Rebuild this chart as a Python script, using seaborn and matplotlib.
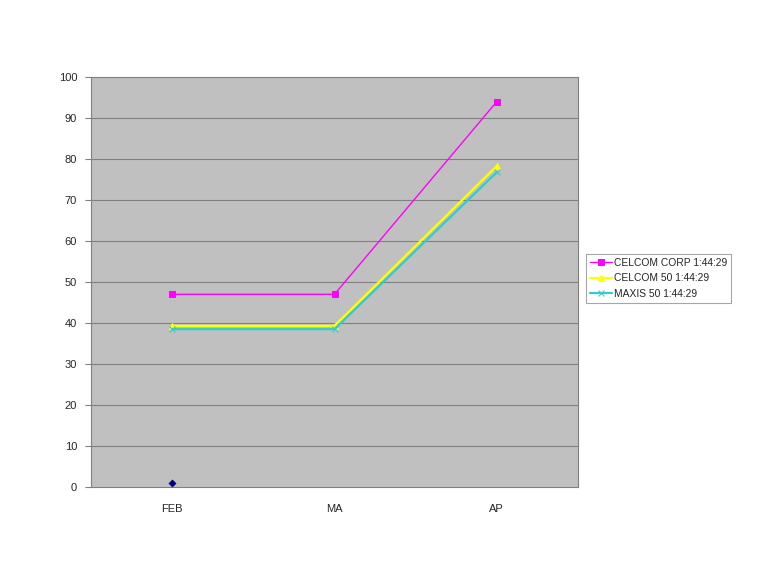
import matplotlib
matplotlib.use("Agg")
import matplotlib.pyplot as plt
import seaborn as sns
import pandas as pd
import numpy as np

categories = ["FEB", "MA", "AP"]
celcom_corp = [47, 47, 94]
celcom_50 = [39.3, 39.3, 78.3]
maxis_50 = [38.5, 38.5, 76.8]
extra_series = [1]  # lone point at FEB, not in legend
yticks = list(range(0, 101, 10))

sns.set_style("white")
plt.rcParams['font.family'] = ['Liberation Sans', 'DejaVu Sans']

fig = plt.figure(figsize=(7.63, 5.72), dpi=100)
ax = fig.add_axes([91/763, 1-487/572, (578-91)/763, (487-77)/572])
ax.set_facecolor("#C0C0C0")

x = np.arange(len(categories))
series = [
    ("CELCOM CORP 1:44:29", celcom_corp, "#FF00FF", "s", 5, 1.0),
    ("CELCOM 50 1:44:29", celcom_50, "#FFFF00", "^", 5, 1.6),
    ("MAXIS 50 1:44:29", maxis_50, "#33CCCC", "x", 5, 1.6),
]
for name, vals, col, mk, ms, lw in series:
    df = pd.DataFrame({"x": x, "y": vals})
    sns.lineplot(data=df, x="x", y="y", ax=ax, color=col, marker=mk,
                 markersize=ms, markeredgecolor=col, linewidth=lw, label=name,
                 zorder=3)

df_extra = pd.DataFrame({"x": x[:len(extra_series)], "y": extra_series})
sns.scatterplot(data=df_extra, x="x", y="y", ax=ax, color="#000080", marker="D",
                s=14, edgecolor="#000080", zorder=4, legend=False)

ax.set_xlim(-0.5, len(categories) - 0.5)
ax.set_ylim(0, 100)
ax.set_yticks(yticks)
ax.set_yticklabels([str(t) for t in yticks], fontsize=8)
ax.set_xticks(x)
ax.set_xticklabels(categories, fontsize=8)
ax.set_xticks(np.arange(-0.5, len(categories)), minor=True)
ax.tick_params(axis="x", which="major", length=0, pad=12)
ax.tick_params(axis="x", which="minor", length=4, color="#808080", direction="out")
ax.tick_params(axis="y", length=4, color="#808080", direction="out", pad=6, left=True)
ax.set_xlabel("")
ax.set_ylabel("")

for t in yticks[1:]:
    ax.axhline(t, color="#808080", linewidth=0.8, zorder=1)

for s in ax.spines.values():
    s.set_color("#808080")
    s.set_linewidth(0.8)

leg = ax.legend(loc="upper left", bbox_to_anchor=(586/763, 1-254/572),
                bbox_transform=fig.transFigure, fontsize=7.4, frameon=True,
                fancybox=False, edgecolor="#909090", handlelength=2.2,
                borderpad=0.35, labelspacing=0.55, handletextpad=0.15,
                borderaxespad=0)
leg.get_frame().set_linewidth(0.8)

fig.savefig("out.png", dpi=100, facecolor="white")
